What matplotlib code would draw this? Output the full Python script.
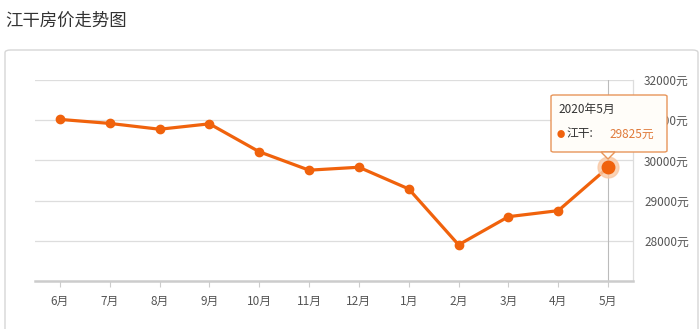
import matplotlib.pyplot as plt
from matplotlib.patches import FancyBboxPatch, Polygon

plt.rcParams['font.family'] = ['Noto Sans CJK SC', 'DejaVu Sans']

# 江干房价 (元/平米)
months = ["6月", "7月", "8月", "9月", "10月", "11月", "12月", "1月", "2月", "3月", "4月", "5月"]
prices = [31020, 30920, 30775, 30910, 30215, 29757, 29830, 29290, 27900, 28600, 28750, 29825]
y_ticks = [28000, 29000, 30000, 31000, 32000]

LINE = "#f0620c"
W, H = 700, 329

fig = plt.figure(figsize=(7, 3.29), dpi=100)

# 标题和外框
fig.text(5 / W, 1 - 21 / H, "江干房价走势图", fontsize=12.5, color="#333333", va="center")
box = FancyBboxPatch((5 / W, -0.05), 0.99, 1 - 50 / H + 0.05,
                     boxstyle="round,pad=0,rounding_size=0.008",
                     transform=fig.transFigure, fc="white", ec="#d6d6d6", lw=1, zorder=-1)
fig.patches.append(box)

ax = fig.add_axes([35 / W, 1 - 281 / H, (633 - 35) / W, (281 - 80) / H])
ax.set_zorder(1)
ax.patch.set_visible(False)
x = list(range(len(months)))

ax.set_xlim(-0.5, len(months) - 0.5)
ax.set_ylim(27000, 32000)
for t in y_ticks:
    ax.axhline(t, color="#dddddd", lw=0.9, zorder=0)

ax.plot(x, prices, color=LINE, lw=2.3, marker="o", ms=6, zorder=3)

# 当前月份高亮
ax.axvline(x[-1], color="#bbbbbb", lw=0.8, zorder=1)
ax.plot(x[-1], prices[-1], "o", ms=15, color="#f9c8a4", alpha=0.8, zorder=4)
ax.plot(x[-1], prices[-1], "o", ms=9, color=LINE, zorder=5)

ax.set_xticks(x)
ax.set_xticklabels(months)
ax.set_yticks(y_ticks)
ax.set_yticklabels([f"{v}元" for v in y_ticks])
ax.yaxis.tick_right()
ax.tick_params(axis="y", length=0, pad=8, labelsize=8.5, colors="#555555")
ax.tick_params(axis="x", length=4, color="#cccccc", pad=6, labelsize=8.5, colors="#555555")

for s in ["top", "left"]:
    ax.spines[s].set_visible(False)
ax.spines["bottom"].set_color("#cccccc")
ax.spines["bottom"].set_linewidth(1.8)
ax.spines["right"].set_color("#dddddd")
ax.spines["right"].set_linewidth(0.9)

# 提示框
tip = FancyBboxPatch((551 / W, 1 - 152 / H), 116 / W, 57 / H,
                     boxstyle="round,pad=0,rounding_size=0.004",
                     transform=fig.transFigure, fc="#fffdf9", ec="#e8955a", lw=1, zorder=10)
fig.patches.append(tip)
arrow = Polygon([(601 / W, 1 - 152 / H), (615 / W, 1 - 152 / H), (608 / W, 1 - 159 / H)],
                closed=True, transform=fig.transFigure, fc="#fffdf9", ec="#e8955a", lw=1, zorder=11)
fig.patches.append(arrow)
fig.text(558 / W, 1 - 109 / H, "2020年5月", fontsize=8.5, color="#333333", va="center", zorder=12)
fig.text(557 / W, 1 - 134 / H, "●", fontsize=6, color=LINE, va="center", zorder=12)
fig.text(566 / W, 1 - 134 / H, "江干:", fontsize=8.5, color="#333333", va="center", zorder=12)
fig.text(609 / W, 1 - 134 / H, f"{prices[-1]}元", fontsize=8.5, color="#e07a3a", va="center", zorder=12)

fig.savefig("out.png", dpi=100)
